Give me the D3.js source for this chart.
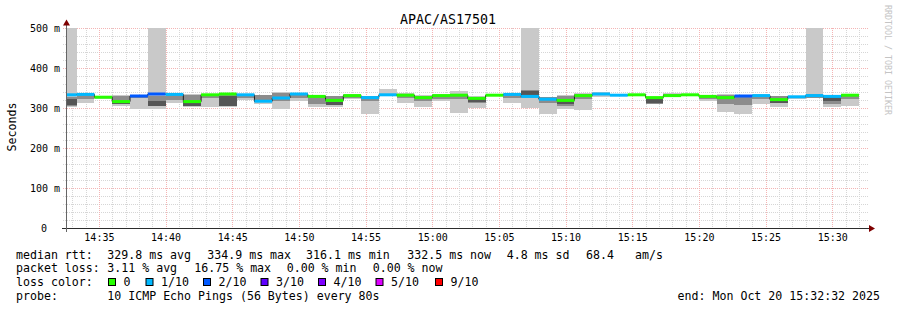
<!DOCTYPE html>
<html>
<head>
<meta charset="utf-8">
<script src="https://cdn.jsdelivr.net/npm/d3@7/dist/d3.min.js"></script>
<style>
body { margin: 0; background: #fff; }
text { font-family: "DejaVu Sans Mono", monospace; fill: #000; }
</style>
</head>
<body>
<svg id="chart" width="897" height="310"></svg>
<script>
// smokeping detail graph, one value per 80s step (ms)
var median = [333,334,327,316,330,335,334,316,333,335,333,317,325,335,329,319,331,326,333,332,326,331,332,324,
              332,334,329,322,319,331,335,332,333,326,331,333,329,326,330,331,321,328,331,329,332];
var pingMin = [303,313,322,306,297,297,313,302,303,302,320,311,298,318,303,303,322,286,330,312,302,317,288,300,
               329,313,301,286,297,294,328,330,331,310,328,331,317,291,285,309,303,323,324,303,305];
var pingMax = [520,338,331,333,331,520,338,334,336,337,335,333,340,338,332,331,334,331,348,337,333,334,342,329,
               334,336,520,328,332,338,339,333,336,328,337,335,332,334,332,334,331,330,520,331,334];
var pingLo = [306,322,325,310,325,305,320,307,326,304,324,314,318,325,310,308,325,318,331,325,318,322,322,312,
              330,325,325,313,305,322,333,331,332,311,330,332,322,310,307,323,312,325,326,310,322];
var pingHi = [328,333,330,331,330,330,333,332,333,333,332,332,338,334,330,330,333,330,334,334,331,333,336,327,
              333,334,345,327,330,334,337,333,335,326,334,334,330,332,330,333,330,329,334,330,333];
// densest pings, null where they sit inside the median band
var coreLo = [308,null,null,309,null,305,null,306,null,305,null,314,null,null,null,307,null,null,null,null,null,null,null,314,
              null,null,330,null,309,null,null,null,null,312,null,null,null,null,null,null,312,null,null,318,null];
var coreHi = [322,null,null,315,null,318,null,314,null,331,null,320,null,null,null,315,null,null,null,null,null,null,null,322,
              null,null,343,null,318,null,null,null,null,322,null,null,null,null,null,null,318,null,null,327,null];
var loss = [1,1,0,0,2,2,1,0,0,0,1,1,1,1,0,0,0,1,1,0,0,0,0,0,
            0,1,1,1,0,0,1,1,0,0,0,0,0,0,2,1,0,1,1,1,0];

var lossLevels = [0,1,2,3,4,5,9];
var lossNames = ["0","1/10","2/10","3/10","4/10","5/10","9/10"];
var lossColors = ["#26ff00","#00b8ff","#0059ff","#5e00ff","#7e00ff","#dd00ff","#ff0000"];

var yTicks = [0,100,200,300,400,500];
var statRtt = ["median rtt:","329.8 ms avg","334.9 ms max","316.1 ms min","332.5 ms now","4.8 ms sd","68.4","am/s"];
var statLoss = ["packet loss:","3.11 % avg","16.75 % max","0.00 % min","0.00 % now"];
var probeText = ["probe:","10 ICMP Echo Pings (56 Bytes) every 80s"];
var endText = "end: Mon Oct 20 15:32:32 2025";

var pL = 66, pR = 866, pT = 28, pB = 228;
var stepMs = 80000;
var firstStep = new Date(2025, 9, 20, 14, 32, 0);
var steps = median.map(function(d, i) { return new Date(+firstStep + i * stepMs); });

var x = d3.scaleTime()
    .domain([new Date(2025, 9, 20, 14, 32, 32), new Date(2025, 9, 20, 15, 32, 32)])
    .range([pL, pR]);
var y = d3.scaleLinear().domain([0, 500]).range([pB, pT]);

function lossColor(l) {
  var c = lossColors[0];
  lossLevels.forEach(function(lv, i) { if (l >= lv) c = lossColors[i]; });
  return c;
}

var svg = d3.select("#chart");
svg.append("rect").attr("width", 897).attr("height", 310).attr("fill", "#fff");

svg.append("defs").append("clipPath").attr("id", "plot")
  .append("rect").attr("x", pL).attr("y", pT).attr("width", pR - pL).attr("height", pB - pT);

// grid
var grid = svg.append("g").attr("shape-rendering", "crispEdges").attr("stroke-dasharray", "1,1");
d3.range(20, 501, 20).forEach(function(v) {
  var yy = Math.round(y(v)) + 0.5;
  grid.append("line").attr("x1", pL - 3).attr("x2", pR + 3).attr("y1", yy).attr("y2", yy)
    .attr("stroke", v % 100 === 0 ? "#f4b4b4" : "#d6d6d6");
});
x.ticks(d3.timeMinute.every(1)).forEach(function(t) {
  var xx = Math.round(x(t)) + 0.5;
  grid.append("line").attr("x1", xx).attr("x2", xx).attr("y1", pT).attr("y2", pB)
    .attr("stroke", t.getMinutes() % 5 === 0 ? "#f4b4b4" : "#d6d6d6");
});

// smoke + median
var plot = svg.append("g").attr("clip-path", "url(#plot)");
function segX(i) { return x(steps[i]); }
function segW(i) { return x(new Date(+steps[i] + stepMs)) - x(steps[i]); }

function band(lo, hi, color) {
  plot.append("g").attr("shape-rendering", "crispEdges").selectAll("rect")
    .data(median.map(function(d, i) { return i; }).filter(function(i) { return lo[i] != null; }))
    .enter().append("rect")
    .attr("x", segX).attr("width", segW)
    .attr("y", function(i) { return y(hi[i]); })
    .attr("height", function(i) { return y(lo[i]) - y(hi[i]); })
    .attr("fill", color);
}
band(pingMin, pingMax, "#c9c9c9");
band(pingLo, pingHi, "#8c8c8c");
band(coreLo, coreHi, "#565656");

var pts = median.map(function(d, i) { return [segX(i), y(d)]; });
pts.push([segX(median.length - 1) + segW(median.length - 1), y(median[median.length - 1])]);
plot.append("path")
  .attr("d", d3.line().curve(d3.curveStepAfter)(pts))
  .attr("fill", "none").attr("stroke", "#202020").attr("stroke-width", 1);

plot.append("g").selectAll("rect").data(median).enter().append("rect")
  .attr("x", function(d, i) { return segX(i); })
  .attr("width", function(d, i) { return segW(i); })
  .attr("y", function(d) { return y(d) - 1.5; })
  .attr("height", 3)
  .attr("fill", function(d, i) { return lossColor(loss[i]); });

// axes
var xAxis = svg.append("g").attr("transform", "translate(0," + pB + ")")
  .call(d3.axisBottom(x).ticks(d3.timeMinute.every(5)).tickFormat(d3.timeFormat("%H:%M")).tickSize(0));
xAxis.select(".domain").remove();
xAxis.selectAll("text").attr("y", 13).attr("dy", null)
  .style("font-family", "DejaVu Sans Mono").style("font-size", "10px").attr("fill", "#000");

var yAxis = svg.append("g").attr("transform", "translate(" + pL + ",0)")
  .call(d3.axisLeft(y).tickValues(yTicks).tickSize(0)
    .tickFormat(function(v) { return v === 0 ? "0" : v + " m"; }));
yAxis.select(".domain").remove();
yAxis.selectAll("text").attr("x", function(d) { return d === 0 ? -19 : -6; }).attr("dy", "0.33em")
  .style("font-family", "DejaVu Sans Mono").style("font-size", "10px").attr("fill", "#000");

svg.append("line").attr("x1", pL - 4).attr("x2", pR + 3).attr("y1", pB + 0.5).attr("y2", pB + 0.5)
  .attr("stroke", "#2c2c2c");
svg.append("line").attr("x1", pL + 0.5).attr("x2", pL + 0.5).attr("y1", pB + 4).attr("y2", pT - 4)
  .attr("stroke", "#666");
svg.append("path").attr("d", "M869,225L875,228.5L869,232Z").attr("fill", "#7f0000");
svg.append("path").attr("d", "M63,25.5L66.5,19.5L70,25.5Z").attr("fill", "#7f0000");

// titles
svg.append("text").attr("x", 448).attr("y", 24).attr("text-anchor", "middle")
  .style("font-size", "13.3px").text("APAC/AS17501");
svg.append("text").attr("transform", "translate(15.5,127) rotate(-90)").attr("text-anchor", "middle")
  .style("font-size", "11.6px").text("Seconds");
svg.append("text").attr("transform", "translate(885,5) rotate(90)")
  .style("font-size", "8.3px").style("fill", "#c4c4c4").text("RRDTOOL / TOBI OETIKER");

// legend
var lg = svg.append("g").style("font-size", "11.6px");
var rttX = [16, 107.3, 207.3, 306, 407.3, 506.7, 586, 635];
statRtt.forEach(function(s, i) { lg.append("text").attr("x", rttX[i]).attr("y", 258.5).text(s); });
var lossX = [16, 107.3, 194.3, 286.7, 372.7];
statLoss.forEach(function(s, i) { lg.append("text").attr("x", lossX[i]).attr("y", 272.3).text(s); });
lg.append("text").attr("x", 16).attr("y", 286).text("loss color:");
var boxX = [108.5, 146, 203.5, 261, 318.5, 376, 435.5];
lossNames.forEach(function(n, i) {
  lg.append("rect").attr("x", boxX[i]).attr("y", 278.5).attr("width", 7).attr("height", 7)
    .attr("fill", lossColors[i]).attr("stroke", "#000").attr("stroke-width", 1);
  lg.append("text").attr("x", boxX[i] + 15).attr("y", 286).text(n);
});
lg.append("text").attr("x", 16).attr("y", 299.8).text(probeText[0]);
lg.append("text").attr("x", 107.3).attr("y", 299.8).text(probeText[1]);
lg.append("text").attr("x", 880).attr("y", 299.8).attr("text-anchor", "end").text(endText);
</script>
</body>
</html>
